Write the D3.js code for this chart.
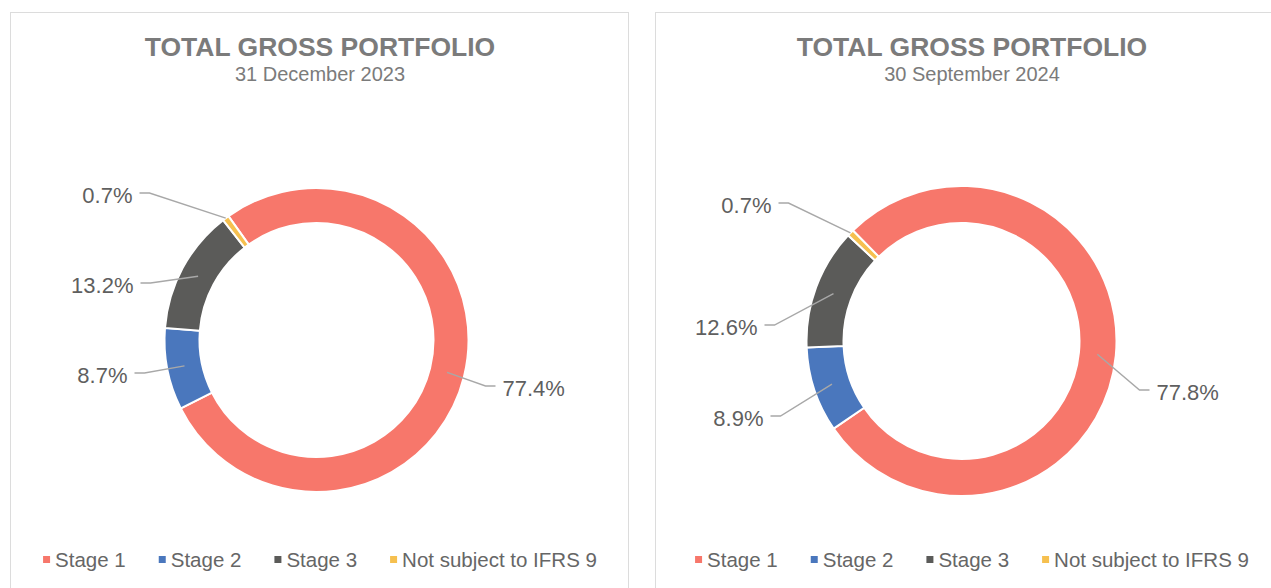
<!DOCTYPE html>
<html>
<head>
<meta charset="utf-8">
<script src="https://cdn.jsdelivr.net/npm/d3@7"></script>
<style>
  body { margin: 0; background: #fff; }
  svg { display: block; font-family: 'Liberation Sans', Arial, sans-serif; }
</style>
</head>
<body>
<svg id="chart" width="1271" height="588"></svg>
<script>
// data
const categories = ['Stage 1', 'Stage 2', 'Stage 3', 'Not subject to IFRS 9']
const colors = ['#f7776b', '#4a77bd', '#5b5b59', '#f6c04f']
const chartTitle = 'TOTAL GROSS PORTFOLIO'
const dates = ['31 December 2023', '30 September 2024']
const share2023 = [77.4, 8.7, 13.2, 0.7]
const share2024 = [77.8, 8.9, 12.6, 0.7]
const seriesValues = [share2023, share2024]

// panel layout (label offsets are relative to the donut centre)
const panels = [
  { x: 10, w: 618, mid: 320, cx: 316.5, cy: 340, r0: 117, r1: 152, start: -35.4,
    labels: [[186, 48, 'start'], [-189, 35, 'end'], [-183, -55, 'end'], [-184, -145, 'end']] },
  { x: 655, w: 640, mid: 972, cx: 961.5, cy: 341, r0: 118, r1: 155, start: -44.5,
    labels: [[195, 51, 'start'], [-198, 77, 'end'], [-204, -14, 'end'], [-190, -136, 'end']] }
]

const svg = d3.select('#chart')
const color = d3.scaleOrdinal().domain(categories).range(colors)

panels.forEach((p, i) => {
  const g = svg.append('g')

  // panel frame
  g.append('rect')
    .attr('x', p.x + 0.5).attr('y', 12.5)
    .attr('width', p.w).attr('height', 600)
    .attr('fill', '#fff')
    .attr('stroke', '#dcdcdc')

  // titles
  g.append('text')
    .attr('x', p.mid).attr('y', 56)
    .attr('text-anchor', 'middle')
    .attr('font-size', 26.5).attr('font-weight', 'bold')
    .attr('fill', '#7b7b7b')
    .text(chartTitle)
  g.append('text')
    .attr('x', p.mid).attr('y', 81)
    .attr('text-anchor', 'middle')
    .attr('font-size', 20)
    .attr('fill', '#7b7b7b')
    .text(dates[i])

  const data = categories.map((c, k) => ({ cat: c, value: seriesValues[i][k] }))
  const a0 = p.start * Math.PI / 180
  const pie = d3.pie().sort(null).value(d => d.value)
    .startAngle(a0).endAngle(a0 + 2 * Math.PI)
  const arcs = pie(data)
  const arc = d3.arc().innerRadius(p.r0).outerRadius(p.r1)
  const rim = d3.arc().innerRadius(p.r1).outerRadius(p.r1)

  const donut = g.append('g').attr('transform', `translate(${p.cx},${p.cy})`)

  donut.selectAll('path')
    .data(arcs)
    .join('path')
    .attr('d', arc)
    .attr('fill', d => color(d.data.cat))
    .attr('stroke', '#fff')
    .attr('stroke-width', 2)

  // data labels with leader lines
  arcs.forEach((d, k) => {
    const [dx, dy, anchor] = p.labels[k]
    const sgn = anchor === 'end' ? 1 : -1
    const target = d.data.value < 2 ? rim.centroid(d) : arc.centroid(d)
    const pts = [[dx + sgn * 7, dy - 2], [dx + sgn * 17, dy - 2], target]
    donut.append('path')
      .attr('d', d3.line()(pts))
      .attr('fill', 'none')
      .attr('stroke', '#a8a8a8')
      .attr('stroke-width', 1.4)
    donut.append('text')
      .attr('x', dx).attr('y', dy)
      .attr('dy', '0.36em')
      .attr('text-anchor', anchor)
      .attr('font-size', 22)
      .attr('fill', '#5f5f5f')
      .text(d3.format('.1f')(d.data.value) + '%')
  })

  // legend
  const leg = g.append('g')
  let cursor = 0
  categories.forEach((c, k) => {
    const item = leg.append('g').attr('transform', `translate(${cursor},0)`)
    item.append('rect')
      .attr('x', 0).attr('y', -4)
      .attr('width', 7).attr('height', 7)
      .attr('fill', color(c))
    const t = item.append('text')
      .attr('x', 12).attr('y', 0)
      .attr('dy', '0.35em')
      .attr('font-size', 20.5)
      .attr('fill', '#666')
      .text(c)
    cursor += 12 + t.node().getComputedTextLength() + 33
  })
  const legW = cursor - 33
  leg.attr('transform', `translate(${p.mid - legW / 2},560)`)
})
</script>
</body>
</html>
